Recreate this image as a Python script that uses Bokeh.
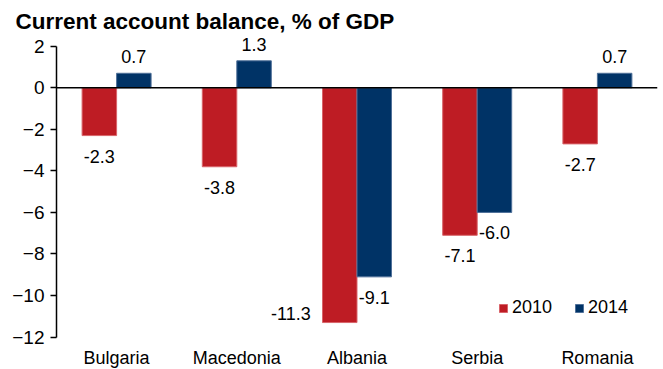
from bokeh.plotting import figure
from bokeh.models import (FactorRange, Range1d, Span, Legend, LegendItem, ColumnDataSource,
                          FixedTicker, LabelSet)
from bokeh.transform import dodge
from bokeh.core.properties import value
from bokeh.embed import file_html
from bokeh.resources import INLINE

countries = ["Bulgaria", "Macedonia", "Albania", "Serbia", "Romania"]
years = ["2010", "2014"]
v2010 = [-2.3, -3.8, -11.3, -7.1, -2.7]
v2014 = [0.7, 1.3, -9.1, -6.0, 0.7]
y_ticks = [2, 0, -2, -4, -6, -8, -10, -12]

RED = "#BE1C24"
BLUE = "#003366"
FONT = "Liberation Sans"
BAR_W = 0.287
OFF = BAR_W / 2
Y_MIN, Y_MAX = -12, 2
# visible frame extends a little beyond the axis so that labels are not clipped
VIEW_MIN, VIEW_MAX = -13.56, 2.47

p = figure(width=663, height=369, x_range=FactorRange(factors=countries, range_padding=0),
           y_range=Range1d(VIEW_MIN, VIEW_MAX), output_backend="svg", toolbar_location=None,
           min_border_left=56, min_border_right=6, min_border_top=36, min_border_bottom=0)
p.outline_line_color = None
p.xgrid.grid_line_color = None
p.ygrid.grid_line_color = None
p.background_fill_color = "white"
p.border_fill_color = "white"

p.title.text = "Current account balance, % of GDP"
p.title.text_font = FONT
p.title.text_font_style = "bold"
p.title.text_font_size = "22.5px"
p.title.text_color = "black"
p.title.align = "left"
p.title.offset = -41
p.title.standoff = 6

src = ColumnDataSource(dict(country=countries, v2010=v2010, v2014=v2014))
r1 = p.vbar(x=dodge("country", -OFF, range=p.x_range), top="v2010", bottom=0, width=BAR_W,
            source=src, fill_color=RED, line_color="#D8646A", line_width=1)
r2 = p.vbar(x=dodge("country", OFF, range=p.x_range), top="v2014", bottom=0, width=BAR_W,
            source=src, fill_color=BLUE, line_color="#4F7099", line_width=1)

p.add_layout(Span(location=0, dimension="width", line_color="black", line_width=1.5))

# data labels
def label_rows(vals):
    xs, ys, txt, xo, yo, al, bl = [], [], [], [], [], [], []
    for c, v in zip(countries, vals):
        xs.append(c); ys.append(v); txt.append(f"{v:.1f}")
        if v >= 0:
            xo.append(0); yo.append(10); al.append("center"); bl.append("bottom")
        elif v < -10:
            xo.append(-29); yo.append(9); al.append("right"); bl.append("middle")
        else:
            xo.append(0); yo.append(-14); al.append("center"); bl.append("top")
    return dict(country=xs, y=ys, text=txt, xo=xo, yo=yo, al=al, bl=bl)

for vals, shift in ((v2010, -OFF), (v2014, OFF)):
    lsrc = ColumnDataSource(label_rows(vals))
    p.add_layout(LabelSet(x=dodge("country", shift, range=p.x_range), y="y", text="text",
                          source=lsrc, x_offset="xo", y_offset="yo", text_align="al",
                          text_baseline="bl", text_font=value(FONT),
                          text_font_size=value("18px"), text_color="black"))

# category labels under the bars
csrc = ColumnDataSource(dict(country=countries, y=[Y_MIN] * len(countries)))
p.add_layout(LabelSet(x="country", y="y", text="country", source=csrc, y_offset=-27,
                      text_align="center", text_baseline="alphabetic", text_font=value(FONT),
                      text_font_size=value("18px"), text_color="black"))
p.xaxis.visible = False

# y axis
p.yaxis.ticker = FixedTicker(ticks=y_ticks)
p.yaxis.bounds = (Y_MIN, Y_MAX)
p.yaxis.axis_line_color = "black"
p.yaxis.axis_line_width = 1.5
p.yaxis.major_tick_line_color = "black"
p.yaxis.major_tick_line_width = 1.5
p.yaxis.major_tick_out = 6
p.yaxis.major_tick_in = 0
p.yaxis.minor_tick_line_color = None
p.yaxis.major_label_text_font = FONT
p.yaxis.major_label_text_font_size = "19px"
p.yaxis.major_label_text_color = "black"
p.yaxis.major_label_standoff = 6

legend = Legend(items=[LegendItem(label=years[0], renderers=[r1]),
                       LegendItem(label=years[1], renderers=[r2])],
                orientation="horizontal", location=(442, 51),
                border_line_color=None, background_fill_alpha=0,
                glyph_width=10, glyph_height=10, label_standoff=4, spacing=22,
                padding=0, margin=0, label_text_font=FONT, label_text_font_size="18px",
                label_text_color="black")
p.add_layout(legend)

open("out.html", "w").write(file_html(p, INLINE))
